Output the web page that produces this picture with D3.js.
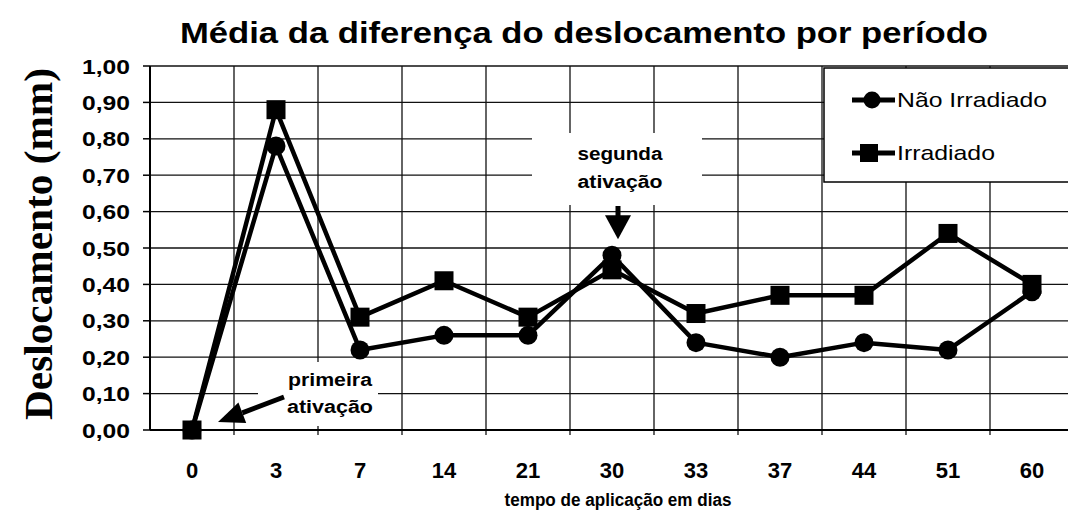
<!DOCTYPE html>
<html>
<head>
<meta charset="utf-8">
<script src="https://cdn.jsdelivr.net/npm/d3@7"></script>
<style>
  body { margin: 0; background: #fff; }
  svg { display: block; }
</style>
</head>
<body>
<div class="canvas"></div>
<script>
// data
const dias = ["0", "3", "7", "14", "21", "30", "33", "37", "44", "51", "60"];
const naoIrradiado = [0.00, 0.78, 0.22, 0.26, 0.26, 0.48, 0.24, 0.20, 0.24, 0.22, 0.38];
const irradiado    = [0.00, 0.88, 0.31, 0.41, 0.31, 0.44, 0.32, 0.37, 0.37, 0.54, 0.40];
const yTicks = [0, 0.1, 0.2, 0.3, 0.4, 0.5, 0.6, 0.7, 0.8, 0.9, 1.0];
const seriesNames = ["Não Irradiado", "Irradiado"];

const dims = {width: 1068, height: 510};
const plot = {left: 150, right: 1074, top: 66, bottom: 430};

const svg = d3.select(".canvas").append("svg")
    .attr("width", dims.width)
    .attr("height", dims.height)
    .style("font-family", "Arial, 'Liberation Sans', sans-serif");

const x = d3.scaleBand()
    .domain(dias)
    .range([plot.left, plot.right])
    .padding(0);

const y = d3.scaleLinear()
    .domain([0, 1])
    .range([plot.bottom, plot.top]);

const cx = d => x(d) + x.bandwidth() / 2;
const fmt = v => d3.format(".2f")(v).replace(".", ",");

// grid
const grid = svg.append("g");
grid.selectAll("line.h")
    .data(yTicks)
    .enter().append("line")
    .attr("x1", plot.left).attr("x2", dims.width)
    .attr("y1", d => y(d)).attr("y2", d => y(d))
    .attr("stroke", "#111").attr("stroke-width", 1.3);

grid.selectAll("line.v")
    .data(dias.slice(1))
    .enter().append("line")
    .attr("x1", d => x(d)).attr("x2", d => x(d))
    .attr("y1", plot.top).attr("y2", plot.bottom + 5)
    .attr("stroke", "#111").attr("stroke-width", 1.3);

// axes lines + y ticks
svg.append("line")
    .attr("x1", plot.left).attr("x2", plot.left)
    .attr("y1", plot.top).attr("y2", plot.bottom)
    .attr("stroke", "#000").attr("stroke-width", 2);
svg.append("line")
    .attr("x1", plot.left).attr("x2", dims.width)
    .attr("y1", plot.bottom).attr("y2", plot.bottom)
    .attr("stroke", "#000").attr("stroke-width", 2);

svg.selectAll("line.ytick")
    .data(yTicks)
    .enter().append("line")
    .attr("x1", plot.left - 7).attr("x2", plot.left)
    .attr("y1", d => y(d)).attr("y2", d => y(d))
    .attr("stroke", "#000").attr("stroke-width", 1.5);

svg.selectAll("text.ylab")
    .data(yTicks)
    .enter().append("text")
    .attr("x", 130)
    .attr("y", d => y(d))
    .attr("dy", "0.36em")
    .attr("text-anchor", "end")
    .attr("font-size", 21)
    .attr("font-weight", "bold")
    .attr("textLength", 48)
    .attr("lengthAdjust", "spacingAndGlyphs")
    .text(fmt);

svg.selectAll("text.xlab")
    .data(dias)
    .enter().append("text")
    .attr("x", d => cx(d))
    .attr("y", 478)
    .attr("text-anchor", "middle")
    .attr("font-size", 22)
    .attr("font-weight", "bold")
    .text(d => d);

// annotation boxes (cover the grid)
const notes = svg.append("g");
notes.append("rect")
    .attr("x", cx("30") - 80).attr("y", 133)
    .attr("width", 170).attr("height", 72)
    .attr("fill", "#fff");
notes.append("rect")
    .attr("x", cx("0") + 66).attr("y", 362)
    .attr("width", 120).attr("height", 64)
    .attr("fill", "#fff");

const noteText = (str, xc, yb, w) => notes.append("text")
    .attr("x", xc).attr("y", yb)
    .attr("text-anchor", "middle")
    .attr("font-size", 18)
    .attr("font-weight", "bold")
    .attr("textLength", w)
    .attr("lengthAdjust", "spacingAndGlyphs")
    .text(str);

noteText("segunda", cx("30") + 8, 160, 85);
noteText("ativação", cx("30") + 8, 188, 85);
noteText("primeira", 330, 386, 84);
noteText("ativação", 330, 413, 86);

// arrow "segunda ativação"
const ax = cx("30") + 6;
const tipY = y(naoIrradiado[5]) - 16;
notes.append("line")
    .attr("x1", ax).attr("x2", ax)
    .attr("y1", 206).attr("y2", tipY - 20)
    .attr("stroke", "#000").attr("stroke-width", 5);
notes.append("path")
    .attr("d", `M${ax - 13},${tipY - 24} L${ax + 13},${tipY - 24} L${ax},${tipY} Z`)
    .attr("fill", "#000");

// arrow "primeira ativação"
const tip = {x: cx("0") + 26, y: 422};
const tail = {x: 284, y: 397};
const ang = Math.atan2(tail.y - tip.y, tail.x - tip.x);
const hl = 26, hw = 11;
const bx = tip.x + hl * Math.cos(ang), by = tip.y + hl * Math.sin(ang);
notes.append("line")
    .attr("x1", tail.x).attr("y1", tail.y)
    .attr("x2", bx).attr("y2", by)
    .attr("stroke", "#000").attr("stroke-width", 5);
notes.append("path")
    .attr("d", `M${tip.x},${tip.y} L${bx - hw * Math.sin(ang)},${by + hw * Math.cos(ang)} L${bx + hw * Math.sin(ang)},${by - hw * Math.cos(ang)} Z`)
    .attr("fill", "#000");

// series lines
const line = d3.line()
    .x((d, i) => cx(dias[i]))
    .y(d => y(d));

svg.append("path")
    .datum(naoIrradiado)
    .attr("d", line)
    .attr("fill", "none").attr("stroke", "#000").attr("stroke-width", 4.5)
    .attr("stroke-linejoin", "round");

svg.append("path")
    .datum(irradiado)
    .attr("d", line)
    .attr("fill", "none").attr("stroke", "#000").attr("stroke-width", 4.5)
    .attr("stroke-linejoin", "round");

svg.selectAll("circle.nao")
    .data(naoIrradiado)
    .enter().append("circle")
    .attr("cx", (d, i) => cx(dias[i]))
    .attr("cy", d => y(d))
    .attr("r", 9.5)
    .attr("fill", "#000");

const sq = 19;
svg.selectAll("rect.irr")
    .data(irradiado)
    .enter().append("rect")
    .attr("x", (d, i) => cx(dias[i]) - sq / 2)
    .attr("y", d => y(d) - sq / 2)
    .attr("width", sq).attr("height", sq)
    .attr("fill", "#000");

// legend
const legendGroup = svg.append("g");
legendGroup.append("rect")
    .attr("x", 824).attr("y", 68)
    .attr("width", 260).attr("height", 114)
    .attr("fill", "#fff").attr("stroke", "#000").attr("stroke-width", 1.5);

const legRows = [
    {name: seriesNames[0], y: 100, w: 150, shape: "circle"},
    {name: seriesNames[1], y: 153, w: 98, shape: "square"}
];
legRows.forEach(r => {
    legendGroup.append("line")
        .attr("x1", 852).attr("x2", 895)
        .attr("y1", r.y).attr("y2", r.y)
        .attr("stroke", "#000").attr("stroke-width", 5);
    if (r.shape === "circle") {
        legendGroup.append("circle")
            .attr("cx", 872).attr("cy", r.y).attr("r", 8.5).attr("fill", "#000");
    } else {
        legendGroup.append("rect")
            .attr("x", 860).attr("y", r.y - 9).attr("width", 18).attr("height", 18).attr("fill", "#000");
    }
    legendGroup.append("text")
        .attr("x", 897).attr("y", r.y + 7)
        .attr("font-size", 21)
        .attr("textLength", r.w)
        .attr("lengthAdjust", "spacingAndGlyphs")
        .text(r.name);
});

// titles
svg.append("text")
    .attr("x", 584).attr("y", 43)
    .attr("text-anchor", "middle")
    .attr("font-size", 29)
    .attr("font-weight", "bold")
    .attr("textLength", 808)
    .attr("lengthAdjust", "spacingAndGlyphs")
    .text("Média da diferença do deslocamento por período");

svg.append("text")
    .attr("x", 618).attr("y", 506)
    .attr("text-anchor", "middle")
    .attr("font-size", 18)
    .attr("font-weight", "bold")
    .attr("textLength", 227)
    .attr("lengthAdjust", "spacingAndGlyphs")
    .text("tempo de aplicação em dias");

svg.append("text")
    .attr("transform", "translate(52,244) rotate(-90)")
    .attr("text-anchor", "middle")
    .attr("font-family", "'Liberation Serif', 'DejaVu Serif', serif")
    .attr("font-size", 40)
    .attr("font-weight", "bold")
    .attr("textLength", 352)
    .attr("lengthAdjust", "spacingAndGlyphs")
    .text("Deslocamento (mm)");
</script>
</body>
</html>
